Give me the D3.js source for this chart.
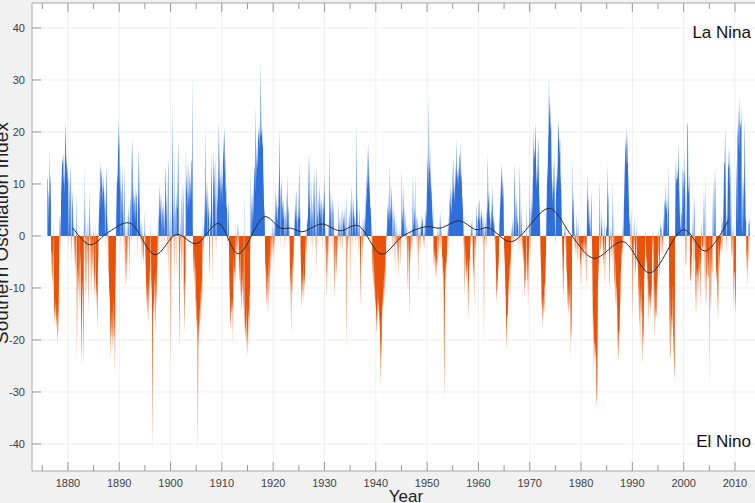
<!DOCTYPE html>
<html>
<head>
<meta charset="utf-8">
<script src="https://d3js.org/d3.v7.min.js"></script>
<style>
body { margin: 0; background: #f1f1f1; }
svg { display: block; font-family: "Liberation Sans", Arial, sans-serif; }
</style>
</head>
<body>
<svg width="755" height="503"></svg>
<script>
// monthly Southern Oscillation Index, one row per year (Jan..Dec)
var firstYear = 1876;
var soiMonthly = [
  [11, 11, 2, 9, 7, 17, 5, 12, 10, -8, -3, -3],          // 1876
  [-10, -7, 3, -10, -14, -17, -13, -16, -12, -18, -15, -21],
  [-17, -13, -19, -9, -2, 4, 3, -3, 8, 10, 13, 15],
  [14, 16, 10, 12, 8, 15, 22, 18, 12, 16, 13, 10],
  [14, 8, -3, 12, 6, -2, 10, 14, 3, -5, 4, 9],           // 1880
  [5, -2, 3, -6, 2, -8, -4, 1, 9, -24, -12, -6],
  [-8, -12, 3, -15, -6, -3, -10, -18, -25, -12, -8, -14],
  [-25, -10, 14, -6, 8, -4, -12, -8, 3, -6, -2, 4],
  [-5, -15, 2, 9, -6, 4, -11, -6, 1, -8, -3, 2],
  [-4, -8, -12, -6, -10, 3, -14, -9, -12, -18, -7, -4],
  [2, 6, 10, 4, 12, 14, 9, 13, 11, 6, 10, 8],
  [12, 5, 9, -3, 4, 8, 14, 6, -2, 4, 2, -6],
  [-8, -13, -10, -18, -24, -14, -20, -17, -22, -15, -12, -19],
  [-20, -15, -27, -10, -5, 4, 8, 12, 10, 15, 23, 16],
  [20, 12, 8, 14, -4, 6, 10, 3, 14, 7, -3, 5],           // 1890
  [14, -6, 3, -10, -4, -10, 2, -6, 4, -2, 6, 3],
  [-9, 5, 8, 3, -2, 12, 19, 14, 6, 10, 4, 8],
  [6, 2, 10, 3, 7, 9, 5, -4, 6, 11, 17, 8],
  [5, -2, 3, -1, 4, -5, -3, 2, -4, -5, 1, -2],
  [5, -3, -6, -10, -14, -8, -16, -11, -17, -9, -13, -6],
  [-10, -4, 3, -12, -8, -17, -42, -18, -12, -15, -8, -10],
  [-19, -13, -6, -14, -10, 4, -8, -3, 2, 6, 10, 3],
  [8, 5, 2, 9, -3, 6, 4, 7, 1, 5, -2, 6],
  [10, 14, 3, 8, -5, 2, 12, 15, -10, 4, -3, 6],
  [-7, -25, 5, -4, 26, 12, 3, 8, -6, 17, -10, 6],        // 1900
  [4, -8, 9, 5, 6, 11, 19, 7, -14, -22, 6, -4],
  [3, -10, 6, 10, -6, 5, 10, -12, -8, -19, -11, -6],
  [17, 8, 12, 4, 10, 15, 6, 9, 13, 5, 11, 7],
  [14, 15, 6, 31, 2, -4, -8, -3, -6, -10, -5, -14],
  [-12, -18, -15, -20, -42, -16, -22, -14, -19, -12, -17, -10],
  [-14, -8, -12, 4, -6, 2, -3, 8, 1, 5, 21, 6],
  [10, 4, 11, -2, 8, 3, 6, -4, -8, 5, 2, 7],
  [16, 8, 3, -10, 17, 12, 6, 14, 9, -3, 16, 7],
  [-4, 11, 5, 8, 13, 22, 16, 9, 12, 6, 14, 10],
  [8, 12, 6, 20, 14, 18, 21, 12, 16, 8, 10, 5],          // 1910
  [6, 2, -3, 4, 7, -6, -10, -13, -16, -18, -12, -15],
  [-14, -12, -21, -9, -4, -8, -6, -10, -3, 2, -5, -1],
  [3, -4, -1, 2, -6, -9, -5, -3, -12, -8, -15, -11],
  [-10, -6, -14, -12, 9, -19, -15, -20, -17, -22, -13, -18],
  [-20, -23, -16, -14, -19, -10, -12, 14, -3, 4, 8, 2],
  [6, 10, 3, 9, 14, 12, 8, 25, 16, 11, 18, 13],
  [15, 21, 18, 22, 16, 20, 19, 34, 22, 19, 21, 17],
  [18, 12, 9, 4, 6, -3, -8, -5, -10, -14, -7, -11],
  [-15, -9, -4, -12, -6, 2, -8, -3, 1, -5, -2, 3],
  [-4, 2, -6, 5, -2, 3, 10, 3, 8, 4, 2, 6],              // 1920
  [5, 9, 12, 21, 6, 10, -3, 8, 11, 5, 7, 3],
  [4, 8, -3, 6, -2, 5, 3, -1, 9, 2, 12, 4],
  [6, -2, 3, -5, -8, -10, -19, -6, -12, -9, -4, -7],
  [-3, 4, -2, 6, 3, 7, 9, 2, 5, -1, 4, 3],
  [8, 14, 3, 6, -2, -6, -10, -14, -8, -12, -5, -9],
  [-13, -7, -10, -4, -2, 3, -5, 1, 4, 2, 6, 16],
  [5, 9, 16, -3, 6, 2, 11, -4, 7, 3, 12, -2],
  [6, 13, 2, -3, 8, 14, -8, 5, 3, 9, -2, 7],
  [4, 10, 6, 3, 8, 2, 7, 5, -3, 9, 4, 6],
  [12, 5, -4, 3, -12, -6, 2, -8, -3, 4, -5, 1],          // 1930
  [18, 6, 3, 9, 5, -2, 8, 4, -6, 7, 3, -4],
  [-12, -6, -3, 2, -8, -5, 1, -4, 7, -2, 3, -1],
  [4, -3, 2, 5, -1, 3, -4, 6, 2, 4, 1, 3],
  [6, -2, 3, 8, -22, -6, 2, -3, 4, -1, 5, 2],
  [-10, 4, 7, 2, 10, 5, -3, 8, 3, 6, 1, 4],
  [3, -2, 5, 22, 4, 8, -1, 3, -4, 6, 2, -3],
  [-14, -5, 2, -3, 4, -6, 1, 3, -2, 5, -1, 2],
  [4, 8, 6, 12, 9, 14, 18, 10, 16, 7, 11, 5],
  [6, 3, -2, 4, -5, -8, -3, -10, -6, -12, -9, -14],
  [-12, -16, -19, -13, -17, -10, -15, -12, -18, -14, -20, -29], // 1940
  [-20, -24, -18, -12, -16, -10, -14, -8, -12, -6, -9, -4],
  [-3, 2, -1, 4, 6, 3, 8, 2, 5, 14, 3, 6],
  [4, 10, 6, 3, -4, 7, -2, 5, 2, -8, 3, -1],
  [-2, 3, -5, 2, -8, -4, 1, -3, 2, -6, 1, -2],
  [3, 13, 2, 5, 1, 10, 4, -2, 6, 3, -1, 2],
  [-2, 3, -4, -11, 1, -3, -16, -6, -2, -5, 2, -3],
  [2, -3, 4, 12, 3, 1, 6, 2, 12, -1, 4, 3],
  [-2, 4, 1, -10, 3, -4, 2, -1, 3, -3, 1, 2],
  [4, 2, 4, -2, 1, -3, 3, -1, 2, 5, 3, 6],
  [10, 16, 12, 9, 27, 14, 12, 17, 8, 13, 6, 10],         // 1950
  [5, 2, 6, -3, -6, -2, -5, -8, -3, -6, -4, -9],
  [-3, 2, -1, -5, 4, -2, 1, 5, -3, -1, 2, -4],
  [-4, -8, -6, -12, -32, -18, -8, -5, -10, -3, -6, -2],
  [2, -3, 4, 1, 3, 8, 5, 10, 6, 4, 9, 7],
  [12, 15, 8, 10, 6, 10, 14, 9, 12, 19, 11, 13],
  [10, 14, 9, 16, 15, 11, 13, 18, 10, 12, 6, 8],
  [4, 2, -3, 1, -12, -6, -2, -8, -5, -9, -4, -7],
  [-16, -10, -8, -4, -6, 2, -3, 1, 3, -2, 4, -5],
  [-8, -4, -14, 2, -3, 1, -5, 3, 6, -1, 2, 4],
  [3, 6, 7, 2, 4, -1, 5, 3, 6, -2, 4, 1],                // 1960
  [5, -21, 3, -2, 4, 1, -3, 2, 6, 4, 16, 8],
  [6, 9, 3, 5, -1, 4, 2, 7, 3, 10, 5, 2],
  [4, -2, 3, 1, -3, -6, -10, -13, -8, -11, -5, -7],
  [-3, 2, 4, 6, 8, 11, 14, 9, 12, 7, 10, 6],
  [-2, -4, -6, -10, -12, -18, -22, -14, -16, -15, -11, -9],
  [-8, -5, -12, -3, -6, 2, -1, 4, -2, 3, 1, -3],
  [8, 14, 6, 3, -2, 5, 8, 2, 4, -1, 3, -4],
  [6, 14, 4, -3, 5, 2, -4, 1, -3, -6, -2, -5],
  [-12, -8, -10, -5, 7, -6, -9, -4, -14, -7, -3, -2],
  [12, -5, 3, 6, 2, 8, 4, 10, 12, 21, 14, 17],           // 1970
  [15, 22, 18, 12, 9, 14, 10, 16, 19, 13, 8, 6],
  [3, -2, -5, -8, -14, -12, -18, -13, -16, -11, -15, -9],
  [-10, -7, -3, 4, 8, 14, 10, 18, 20, 31, 22, 26],
  [24, 20, 22, 14, 10, 6, 11, 8, 12, 16, 10, 2],
  [-2, 6, 12, 8, 14, 10, 18, 22, 20, 15, 18, 19],
  [12, 10, 8, 3, -2, -5, -12, -8, -4, 2, -1, 3],
  [-4, 2, -8, -6, -10, -13, -15, -12, -9, -14, -11, -24],
  [-6, -20, -18, -4, 15, 5, 8, 4, 2, -1, -3, 1],
  [-4, 5, -2, -6, 3, -5, 4, -3, -1, -2, -6, -4],
  [-10, -1, -3, -4, -2, -1, -5, 1, -2, -3, -1, -4],      // 1980
  [-10, -2, 4, 12, 6, 8, 3, 1, 5, 2, -1, 4],
  [9, 1, -3, -11, -19, -14, -26, -22, -20, -21, -24, -22],
  [-30, -33, -28, -17, -3, -9, -6, 2, 11, -2, -3, 1],
  [2, 5, -3, 1, -4, -6, 4, -2, -10, -1, -5, 2],
  [1, 3, 14, 6, 9, -2, -4, -11, -3, 2, -1, -5],
  [2, -6, 11, -3, -5, 6, -8, -10, -4, -12, -14, -9],
  [-11, -16, -21, -24, -20, -18, -19, -14, -12, -7, -6, -3],
  [-2, -4, 3, -2, 5, 8, 12, 15, 19, 16, 21, 14],
  [14, 20, 12, 10, 6, 2, 4, -4, 1, 5, -1, -3],
  [-2, -16, -6, -3, 4, -1, -2, -5, -8, -4, 3, -6],       // 1990
  [-5, -4, -9, -12, -18, -7, -22, -10, -14, -16, -8, -15],
  [-25, -18, -21, -14, -5, -9, -2, 1, -3, -6, -4, -7],
  [-9, -18, -8, -14, -12, -11, -15, -12, -10, -13, -6, 1],
  [-3, 1, -10, -20, -12, -9, -17, -14, -16, -12, -7, -11],
  [-4, -3, 2, -8, -6, -2, 3, 1, 2, -4, 1, -5],
  [4, -2, 6, 7, 1, 10, 6, 5, 7, 4, -1, 8],
  [4, 14, -9, -16, -22, -24, -10, -20, -15, -18, -15, -9],
  [-24, -19, -28, -24, 1, 10, 15, 10, 11, 11, 12, 13],
  [18, 9, 3, 12, 2, 1, 4, 5, -1, 9, 13, 12],
  [5, 13, 9, 17, 3, -6, -5, 5, 10, 22, 21, 8],           // 2000
  [9, 12, 6, -8, -9, -6, -3, -9, 2, -2, 7, -9],
  [3, 8, -5, -4, -15, -6, -8, -15, -8, -7, -6, -11],
  [-2, -8, -6, -4, -14, -3, 3, -2, -2, -3, -2, 10],
  [-12, 9, 0, -15, 13, -14, -7, -8, -3, -4, -8, -8],
  [2, -29, 0, -11, -15, -2, -7, -7, 4, 11, -2, 1],
  [13, -2, 14, 0, -9, -6, -9, -16, -5, -16, -1, -3],
  [-7, -3, -1, -3, -3, 5, -4, 3, 2, 5, 10, 14],
  [14, 21, 12, 5, -4, 5, 2, 9, 14, 13, 17, 14],
  [9, 15, -1, 9, -5, -2, 2, -5, 4, -15, -7, -7],
  [-10, -15, -11, 15, 10, 2, 21, 19, 25, 18, 16, 27],    // 2010
  [20, 22, 21, 25, 2, 0, 11, 2, 12, 7, 14, 23],
  [9, 3, 3, -7, -3, -10, -2, -5, 3, 2, 4, -6]            // 2012
];

// smoothed curve, read at its turning points
var smoothYears  = [1881, 1884.3, 1888, 1892, 1897, 1901.2, 1905, 1909.3, 1913.2, 1918.4, 1921.5, 1923.5, 1925.6, 1929.5, 1933, 1936.5, 1941.1, 1945.3, 1949.9, 1952.5, 1956.3, 1959.6, 1961.9, 1966.4, 1973.8, 1978.2, 1982.5, 1988.2, 1993.4, 2000, 2004.2, 2008.7];
var smoothValues = [1.5, -1.7, 0.8, 2.5, -3.6, 0.3, -1.5, 2.4, -3.4, 3.7, 1.5, 1.5, 0.8, 2.3, 1.0, 2.0, -3.5, 0.0, 1.8, 1.5, 2.9, 1.2, 1.6, -1.1, 5.3, 0.0, -4.3, -1.1, -7.1, 1.2, -2.9, 3.0];

var xTickYears = [1880, 1890, 1900, 1910, 1920, 1930, 1940, 1950, 1960, 1970, 1980, 1990, 2000, 2010];
var yTickValues = [-40, -30, -20, -10, 0, 10, 20, 30, 40];

var svg = d3.select("svg"),
    width = +svg.attr("width"),
    height = +svg.attr("height");

var plotLeft = 32, plotTop = 3, plotRight = 756, plotBottom = 471;

var x = d3.scaleLinear().domain([1873, 2014]).range([32, 755.5]);
var y = d3.scaleLinear().domain([-45.2, 44.8]).range([plotBottom, plotTop]);

var data = [];
soiMonthly.forEach(function(row, i) {
    row.forEach(function(v, m) {
        data.push({ t: firstYear + i + m / 12, v: v });
    });
});

// plot background
svg.append("rect")
    .attr("x", plotLeft).attr("y", plotTop)
    .attr("width", plotRight - plotLeft).attr("height", plotBottom - plotTop)
    .attr("fill", "#ffffff");

// faint grid
svg.append("g").selectAll("line")
    .data(xTickYears)
    .enter().append("line")
    .attr("x1", function(d) { return x(d); })
    .attr("x2", function(d) { return x(d); })
    .attr("y1", plotTop).attr("y2", plotBottom)
    .style("stroke", "#f0f0f0");
svg.append("g").selectAll("line")
    .data(yTickValues)
    .enter().append("line")
    .attr("x1", plotLeft).attr("x2", plotRight)
    .attr("y1", function(d) { return y(d); })
    .attr("y2", function(d) { return y(d); })
    .style("stroke", "#f0f0f0");

var defs = svg.append("defs");
defs.append("clipPath").attr("id", "above")
    .append("rect").attr("x", plotLeft).attr("y", plotTop)
    .attr("width", plotRight - plotLeft).attr("height", y(0) - plotTop);
defs.append("clipPath").attr("id", "below")
    .append("rect").attr("x", plotLeft).attr("y", y(0))
    .attr("width", plotRight - plotLeft).attr("height", plotBottom - y(0));

var area = d3.area()
    .x(function(d) { return x(d.t); })
    .y0(y(0))
    .y1(function(d) { return y(d.v); });

svg.append("path")
    .datum(data)
    .attr("clip-path", "url(#above)")
    .attr("d", area)
    .style("fill", "#2f6fdc");

svg.append("path")
    .datum(data)
    .attr("clip-path", "url(#below)")
    .attr("d", area)
    .style("fill", "#ea5209");

// smoothed line
var smooth = smoothYears.map(function(t, i) { return { t: t, v: smoothValues[i] }; });
svg.append("path")
    .datum(smooth)
    .attr("d", d3.line()
        .x(function(d) { return x(d.t); })
        .y(function(d) { return y(d.v); })
        .curve(d3.curveCatmullRom.alpha(0.5)))
    .style("fill", "none")
    .style("stroke", "#2b2b2b")
    .style("stroke-width", "1px");

// axes box
var axisColor = "#a8a8a8";
svg.append("line").attr("x1", plotLeft).attr("x2", plotRight).attr("y1", plotBottom).attr("y2", plotBottom)
    .style("stroke", axisColor);
svg.append("line").attr("x1", plotLeft).attr("x2", plotRight).attr("y1", plotTop).attr("y2", plotTop)
    .style("stroke", axisColor);
svg.append("line").attr("x1", plotLeft).attr("x2", plotLeft).attr("y1", plotTop).attr("y2", plotBottom)
    .style("stroke", axisColor);

// x ticks (major decades, minor half decades), bottom and top, pointing in
var minorYears = xTickYears.map(function(d) { return d - 5; }).concat([2015]);
function xTicks(list, len) {
    var g = svg.append("g");
    list.forEach(function(d) {
        g.append("line").attr("x1", x(d)).attr("x2", x(d))
            .attr("y1", plotBottom).attr("y2", plotBottom - len).style("stroke", "#999");
        g.append("line").attr("x1", x(d)).attr("x2", x(d))
            .attr("y1", plotTop).attr("y2", plotTop + len).style("stroke", "#999");
    });
}
xTicks(xTickYears, 9);
xTicks(minorYears.filter(function(d) { return x(d) > plotLeft && x(d) < plotRight; }), 6);

svg.append("g").selectAll("line")
    .data(yTickValues)
    .enter().append("line")
    .attr("x1", plotLeft).attr("x2", plotLeft + 9)
    .attr("y1", function(d) { return y(d); })
    .attr("y2", function(d) { return y(d); })
    .style("stroke", "#999");

// tick labels
svg.append("g").selectAll("text")
    .data(xTickYears)
    .enter().append("text")
    .attr("x", function(d) { return x(d); })
    .attr("y", 487)
    .attr("text-anchor", "middle")
    .style("font-size", "11px")
    .style("fill", "#404040")
    .text(function(d) { return d; });

svg.append("g").selectAll("text")
    .data(yTickValues)
    .enter().append("text")
    .attr("x", 25)
    .attr("y", function(d) { return y(d) + 4; })
    .attr("text-anchor", "end")
    .style("font-size", "11px")
    .style("fill", "#404040")
    .text(function(d) { return d; });

// titles and annotations
svg.append("text")
    .attr("x", 406).attr("y", 502)
    .attr("text-anchor", "middle")
    .style("font-size", "17px")
    .style("fill", "#222")
    .text("Year");

svg.append("text")
    .attr("transform", "translate(8," + 233 + ") rotate(-90)")
    .attr("text-anchor", "middle")
    .style("font-size", "19px")
    .style("fill", "#222")
    .text("Southern Oscillation Index");

svg.append("text")
    .attr("x", 751).attr("y", 37.5)
    .attr("text-anchor", "end")
    .style("font-size", "17px")
    .style("fill", "#111")
    .text("La Nina");

svg.append("text")
    .attr("x", 751).attr("y", 447)
    .attr("text-anchor", "end")
    .style("font-size", "17px")
    .style("fill", "#111")
    .text("El Nino");
</script>
</body>
</html>
